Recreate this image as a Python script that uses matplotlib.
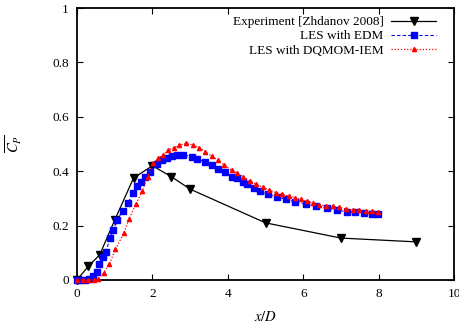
import matplotlib
matplotlib.use("Agg")
import matplotlib.pyplot as plt

plt.rcParams['font.family'] = ['Liberation Serif', 'DejaVu Serif']
plt.rcParams['mathtext.fontset'] = 'stix'

exp_x = [0.0, 0.3, 0.6, 1.0, 1.5, 2.0, 2.5, 3.0, 5.0, 7.0, 9.0]
exp_y = [0.0, 0.05, 0.092, 0.22, 0.375, 0.42, 0.38, 0.334, 0.21, 0.154, 0.14]

edm_x = [0.0, 0.08, 0.21, 0.33, 0.43, 0.52, 0.59, 0.70, 0.76, 0.88, 0.96, 1.07, 1.21, 1.36,
         1.48, 1.60, 1.69, 1.80, 1.94, 2.11, 2.25, 2.38, 2.51, 2.64, 2.82, 3.04, 3.17, 3.40,
         3.57, 3.75, 3.93, 4.10, 4.24, 4.39, 4.52, 4.69, 4.85, 5.07, 5.31, 5.54, 5.78, 6.07,
         6.34, 6.64, 6.89, 7.15, 7.37, 7.62, 7.82, 7.99]
edm_y = [0, 0, 0, 0.003, 0.015, 0.031, 0.058, 0.083, 0.104, 0.153, 0.184, 0.221, 0.255, 0.284,
         0.319, 0.345, 0.361, 0.380, 0.398, 0.425, 0.441, 0.450, 0.457, 0.46, 0.46, 0.454, 0.445,
         0.435, 0.423, 0.408, 0.396, 0.380, 0.374, 0.362, 0.352, 0.337, 0.327, 0.315, 0.304,
         0.298, 0.286, 0.279, 0.272, 0.264, 0.257, 0.251, 0.249, 0.245, 0.243, 0.242]

dq_x = [0.0, 0.15, 0.3, 0.45, 0.57, 0.71, 0.86, 1.02, 1.24, 1.38, 1.56, 1.73, 1.87, 2.02, 2.16,
        2.28, 2.42, 2.56, 2.71, 2.90, 3.07, 3.24, 3.40, 3.57, 3.74, 3.91, 4.10, 4.25, 4.41, 4.59,
        4.75, 4.93, 5.10, 5.28, 5.43, 5.61, 5.78, 5.95, 6.10, 6.27, 6.43, 6.60, 6.78, 6.96, 7.14,
        7.31, 7.49, 7.67, 7.82, 7.99]
dq_y = [0, 0, 0, 0, 0.003, 0.027, 0.06, 0.112, 0.172, 0.225, 0.279, 0.326, 0.38, 0.429, 0.447,
        0.46, 0.478, 0.486, 0.496, 0.502, 0.497, 0.486, 0.472, 0.455, 0.441, 0.422, 0.404, 0.392,
        0.380, 0.364, 0.352, 0.341, 0.331, 0.321, 0.315, 0.309, 0.303, 0.296, 0.289, 0.282, 0.276,
        0.272, 0.271, 0.267, 0.261, 0.257, 0.256, 0.255, 0.253, 0.251]

labels = ['Experiment [Zhdanov 2008]', 'LES with EDM', 'LES with DQMOM-IEM']
xticks = [0, 2, 4, 6, 8, 10]
yticks = [0, 0.2, 0.4, 0.6, 0.8, 1]
ytick_labels = ['0', '0.2', '0.4', '0.6', '0.8', '1']

fig = plt.figure(figsize=(4.6, 3.24), dpi=100)
ax = fig.add_axes([0.1674, 0.136, 0.8196, 0.839])

ax.plot(exp_x, exp_y, color='black', lw=0.9, marker='v', ms=5.5, label=labels[0],
        clip_on=False, zorder=3)
ax.plot(edm_x, edm_y, color='#0000ff', lw=0.8, ls=(0, (3, 2)), marker='s', ms=4.2,
        mec='#0000ff', mfc='#0000ff', label=labels[1], clip_on=False, zorder=4)
ax.plot(dq_x, dq_y, color='#ff0000', lw=0.9, ls=(0, (1, 1.5)), marker='^', ms=3,
        mec='#ff0000', mfc='#ff0000', label=labels[2], clip_on=False, zorder=5)

ax.set_xlim(0, 10)
ax.set_ylim(0, 1)
ax.set_xticks(xticks)
ax.set_xticklabels([str(t) for t in xticks])
ax.set_yticks(yticks)
ax.set_yticklabels(ytick_labels)
ax.tick_params(direction='in', top=True, right=True, length=4, width=0.8,
               labelsize=9.5, pad=6)
for s in ax.spines.values():
    s.set_linewidth(1.3)

ax.set_xlabel(r'$x/D$', fontsize=10.5, labelpad=7)
ax.set_ylabel(r'$\overline{C_P}$', fontsize=10.5, labelpad=20)

leg = ax.legend(loc='upper right', frameon=False, markerfirst=False, fontsize=9.5,
                handlelength=3.4, handletextpad=0.6, labelspacing=0.15,
                borderaxespad=0.2, bbox_to_anchor=(0.974, 1.0), markerscale=1.0)

fig.savefig('out.png', dpi=100)
